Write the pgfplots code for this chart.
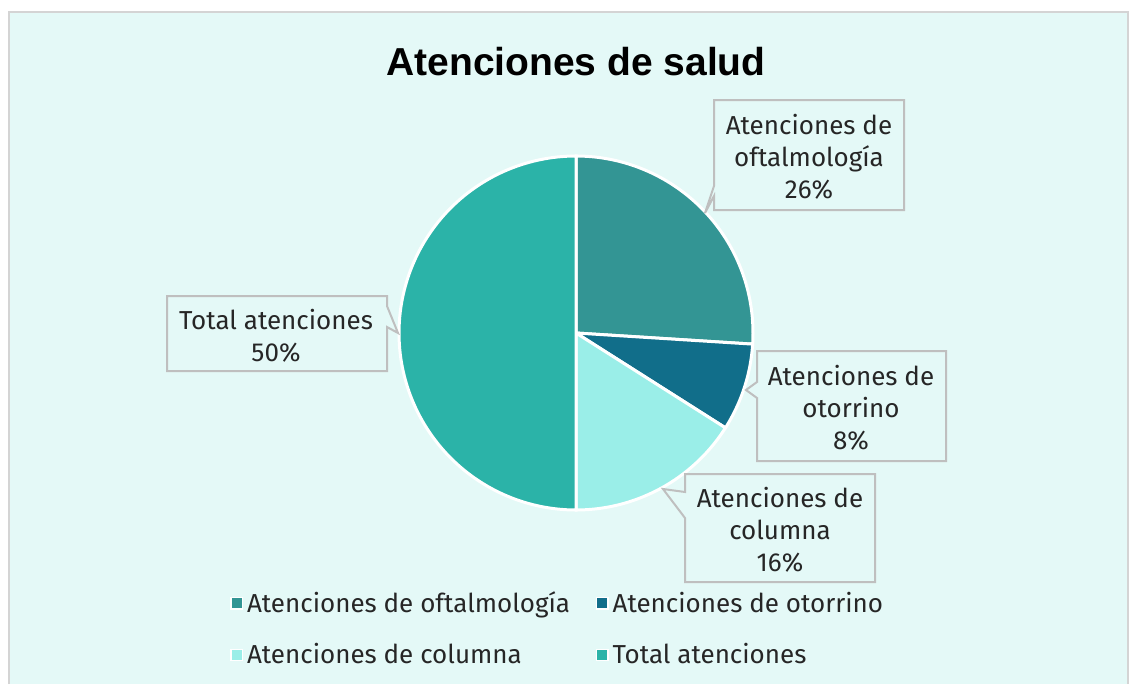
\documentclass[border=0pt]{standalone}
\usepackage{pgfplots}
\pgfplotsset{compat=1.18}
\usepackage{fontspec}
\setmainfont{Fira Sans}
\newfontfamily\titlefont{Liberation Sans}

\definecolor{bgc}{HTML}{E4F9F7}
\definecolor{framegray}{HTML}{D4D4D4}
\definecolor{boxgray}{HTML}{BFBFBF}
\definecolor{txt}{HTML}{262626}
\definecolor{coft}{HTML}{339594}
\definecolor{coto}{HTML}{116E8A}
\definecolor{ccol}{HTML}{9AEEE8}
\definecolor{ctot}{HTML}{2BB3A8}

% pie: centre and radius in picture pixels, shares in percent
\def\cx{576}
\def\cy{333}
\def\rr{177}

\begin{document}
\begin{tikzpicture}
\begin{axis}[
    scale only axis,
    width=565pt, height=342pt,
    xmin=0, xmax=1130, ymin=0, ymax=684,
    y dir=reverse,
    hide axis, clip=false,
    legend image code/.code={\draw[#1,draw=white,line width=0.7pt] (0pt,-2.8pt) rectangle (5.6pt,2.8pt);},
    legend style={at={(axis cs:224,629)}, anchor=west, draw=none, fill=none,
        font=\fontsize{13}{15}\selectfont\color{txt}, row sep=10pt,
        legend columns=2, legend cell align=left,
        /tikz/every even column/.append style={column sep=11pt}},
]
\fill[white] (axis cs:0,0) rectangle (axis cs:1130,684);
\fill[bgc] (axis cs:9,12) rectangle (axis cs:1128,684);
\draw[draw=framegray, line width=1pt] (axis cs:9,684) -- (axis cs:9,12)
    -- (axis cs:1128,12) -- (axis cs:1128,684);
\node[font=\titlefont\bfseries\fontsize{19.5}{23}\selectfont] at (axis cs:576,62) {Atenciones de salud};

% slices: oftalmologia 26, otorrino 8, columna 16, total 50 (start at top, clockwise)
\addplot[fill=coft, draw=white, line width=1.5pt, domain={-90+3.6*0}:{-90+3.6*26}, samples=80]
    ({\cx+\rr*cos(x)},{\cy+\rr*sin(x)}) -- (axis cs:\cx,\cy) -- cycle;
\addlegendentry{Atenciones de oftalmología}
\addplot[fill=coto, draw=white, line width=1.5pt, domain={-90+3.6*26}:{-90+3.6*34}, samples=30]
    ({\cx+\rr*cos(x)},{\cy+\rr*sin(x)}) -- (axis cs:\cx,\cy) -- cycle;
\addlegendentry{Atenciones de otorrino}
\addplot[fill=ccol, draw=white, line width=1.5pt, domain={-90+3.6*34}:{-90+3.6*50}, samples=50]
    ({\cx+\rr*cos(x)},{\cy+\rr*sin(x)}) -- (axis cs:\cx,\cy) -- cycle;
\addlegendentry{Atenciones de columna}
\addplot[fill=ctot, draw=white, line width=1.5pt, domain={-90+3.6*50}:{-90+3.6*100}, samples=120]
    ({\cx+\rr*cos(x)},{\cy+\rr*sin(x)}) -- (axis cs:\cx,\cy) -- cycle;
\addlegendentry{Total atenciones}

% callouts
\draw[draw=boxgray, line width=1pt, fill=bgc]
    (axis cs:714,100) -- (axis cs:904,100) -- (axis cs:904,210) -- (axis cs:714,210)
    -- (axis cs:714,196) -- (axis cs:705,213) -- (axis cs:714,186) -- cycle;
\draw[draw=boxgray, line width=1pt, fill=bgc]
    (axis cs:167,296) -- (axis cs:387,296) -- (axis cs:387,306) -- (axis cs:398,333)
    -- (axis cs:387,327) -- (axis cs:387,371) -- (axis cs:167,371) -- cycle;
\draw[draw=boxgray, line width=1pt, fill=bgc]
    (axis cs:757,351) -- (axis cs:946,351) -- (axis cs:946,461) -- (axis cs:757,461)
    -- (axis cs:757,398) -- (axis cs:746,390) -- (axis cs:757,382) -- cycle;
\draw[draw=boxgray, line width=1pt, fill=bgc]
    (axis cs:685,474) -- (axis cs:875,474) -- (axis cs:875,582) -- (axis cs:685,582)
    -- (axis cs:685,518) -- (axis cs:663,489) -- (axis cs:685,492) -- cycle;

\begin{scope}[every node/.style={align=center, text=txt, font=\fontsize{13}{16}\selectfont}]
\node at (axis cs:809,157) {Atenciones de\\oftalmología\\26\%};
\node at (axis cs:276,336) {Total atenciones\\50\%};
\node at (axis cs:851,408) {Atenciones de\\otorrino\\8\%};
\node at (axis cs:780,530) {Atenciones de\\columna\\16\%};
\end{scope}
\end{axis}
\end{tikzpicture}
\end{document}
